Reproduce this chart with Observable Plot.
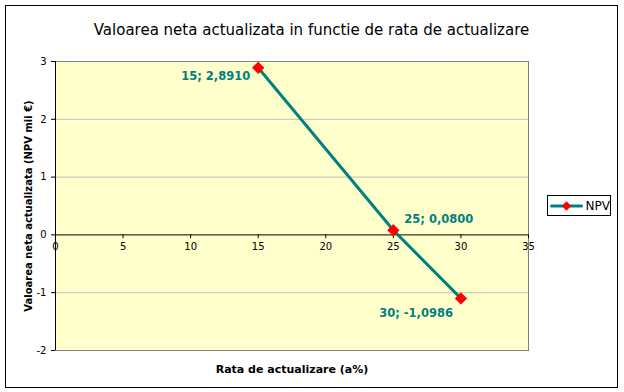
<!DOCTYPE html>
<html>
<head>
<meta charset="utf-8">
<script src="https://cdn.jsdelivr.net/npm/d3@7"></script>
<script src="https://cdn.jsdelivr.net/npm/@observablehq/plot@0.6"></script>
<style>
  body { margin: 0; background: #fff; width: 624px; height: 392px; position: relative; overflow: hidden; font-family: "DejaVu Sans", Verdana, sans-serif; }
  #frame { position: absolute; left: 5px; top: 5px; width: 611px; height: 381px; border: 1px solid #000; }
  #chart { position: absolute; left: 0; top: 0; }
  #title { position: absolute; left: 0; width: 611px; top: 15px; text-align: center; font-size: 15px; color: #000; }
  #legend { position: absolute; left: 541px; top: 189px; width: 62px; height: 19px; border: 1px solid #000; background: #fff; }
</style>
</head>
<body>
<div id="frame">
  <div id="chart"></div>
  <div id="title">Valoarea neta actualizata in functie de rata de actualizare</div>
  <div id="legend"></div>
</div>
<script>
const seriesName = "NPV";
const rates = [15, 25, 30];
const npv = [2.8910, 0.0800, -1.0986];
const xTicks = [0, 5, 10, 15, 20, 25, 30, 35];
const yTicks = [-2, -1, 0, 1, 2, 3];
const title = "Valoarea neta actualizata in functie de rata de actualizare";
const xLabel = "Rata de actualizare (a%)";
const yLabel = "Valoarea neta actualizata (NPV mii €)";

const data = rates.map((r, i) => ({x: r, y: npv[i], label: `${r}; ${npv[i].toFixed(4).replace(".", ",")}`}));
// label placement relative to each point (pixels)
const labelPos = [
  {dx: -8, dy: 9, anchor: "end"},
  {dx: 11, dy: -11, anchor: "start"},
  {dx: -8, dy: 15, anchor: "end"}
];
const teal = "#008080";
const fmt = d => d < 0 ? "-" + (-d) : String(d);

const plot = Plot.plot({
  width: 611,
  height: 381,
  marginLeft: 49,
  marginRight: 89,
  marginTop: 55,
  marginBottom: 37,
  style: {fontFamily: "DejaVu Sans, Verdana, sans-serif", background: "transparent", overflow: "visible"},
  x: {domain: [0, 35], axis: null},
  y: {domain: [-2, 3], axis: null},
  marks: [
    Plot.frame({fill: "#ffffcc", stroke: "#808080"}),
    Plot.ruleY(yTicks.filter(d => d !== 0 && d !== -2 && d !== 3), {stroke: "#c0c0c0"}),
    Plot.ruleY([0], {stroke: "#000"}),
    Plot.ruleX([0], {stroke: "#000"}),
    // y axis
    Plot.axisY(yTicks, {anchor: "left", tickSize: 4, tickPadding: 5, tickFormat: fmt, fontSize: 10, label: null, stroke: "#000"}),
    Plot.text([yLabel], {frameAnchor: "left", dx: -27, rotate: -90, textAnchor: "middle", fontWeight: "bold", fontSize: 10, fill: "#000"}),
    // x axis on the zero line
    Plot.ruleX(xTicks, {x: d => d, y1: 0, y2: -0.065, stroke: "#000"}),
    Plot.text(xTicks, {x: d => d, y: 0, dy: 12, text: d => String(d), fontSize: 10, fill: "#000"}),
    Plot.text([xLabel], {frameAnchor: "bottom", dy: 22, fontWeight: "bold", fontSize: 11, fill: "#000"}),
    // series
    Plot.line(data, {x: "x", y: "y", stroke: teal, strokeWidth: 3}),
    Plot.dot(data, {x: "x", y: "y", symbol: "diamond2", r: 4.6, fill: "#ff0000", stroke: "#ff0000"}),
    ...data.map((d, i) => Plot.text([d], {x: "x", y: "y", text: "label", dx: labelPos[i].dx, dy: labelPos[i].dy, textAnchor: labelPos[i].anchor, fill: teal, fontWeight: "bold", fontSize: 11.5}))
  ]
});
document.getElementById("chart").appendChild(plot);

// legend drawn with Plot
const legendData = [{x: 0, y: 0}, {x: 1, y: 0}];
const legend = Plot.plot({
  width: 62, height: 19, margin: 0,
  style: {background: "transparent", overflow: "visible"},
  x: {domain: [0, 1], range: [3, 33], axis: null},
  y: {domain: [-1, 1], axis: null},
  marks: [
    Plot.line(legendData, {x: "x", y: "y", stroke: teal, strokeWidth: 3}),
    Plot.dot([{x: 0.5, y: 0}], {x: "x", y: "y", symbol: "diamond2", r: 4.2, fill: "#ff0000"}),
    Plot.text([seriesName], {x: 1, y: 0, dx: 4, textAnchor: "start", fontSize: 12, fill: "#000", fontFamily: "DejaVu Sans, Verdana, sans-serif"})
  ]
});
document.getElementById("legend").appendChild(legend);
</script>
</body>
</html>
